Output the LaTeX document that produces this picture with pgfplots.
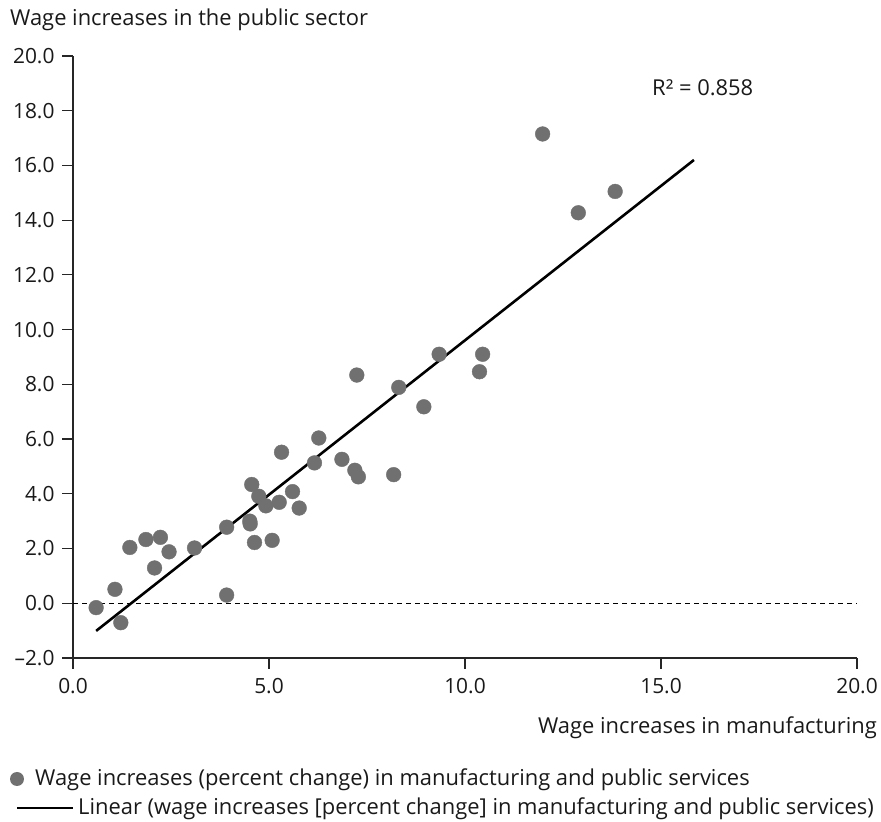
\documentclass[border=0pt]{standalone}
\usepackage{fontspec}
\setmainfont{Open Sans}
\usepackage{pgfplots}
\pgfplotsset{compat=1.18}
\definecolor{dotgray}{RGB}{112,112,112}
\definecolor{txt}{RGB}{25,25,25}
\begin{document}
\fontsize{22}{25}\selectfont
\begin{tikzpicture}[x=1bp,y=1bp]
\useasboundingbox (0,0) rectangle (881,822);
\begin{axis}[
  at={(73bp,164bp)}, anchor=south west,
  scale only axis, width=784bp, height=602bp,
  xmin=0, xmax=20, ymin=-2, ymax=20,
  axis x line=bottom, axis y line=left,
  axis line style={-, line width=1.2pt, black!85},
  tick align=outside, major tick length=11bp,
  tick style={line width=1.2pt, black!85},
  xtick={0,5,10,15,20},
  xticklabels={0.0,5.0,10.0,15.0,20.0},
  ytick={-2,0,2,4,6,8,10,12,14,16,18,20},
  yticklabels={\textendash2.0,0.0,2.0,4.0,6.0,8.0,10.0,12.0,14.0,16.0,18.0,20.0},
  ticklabel style={font=\fontsize{21}{24}\selectfont, text=txt},
  xticklabel style={yshift=-2bp},
  clip=false,
]
\addplot[black, line width=0.9pt, dash pattern=on 5bp off 4bp] coordinates {(0,0) (20,0)};
\addplot[only marks, mark=*, mark size=7.4pt, mark options={fill=dotgray, draw=dotgray}] coordinates {
(0.59,-0.16) (1.07,0.51) (1.22,-0.71) (1.45,2.04) (1.86,2.33) (2.08,1.29)
(2.23,2.41) (2.45,1.88) (3.10,2.02) (3.92,2.78) (3.92,0.30) (4.51,3.00)
(4.52,2.90) (4.56,4.34) (4.63,2.22) (4.74,3.91) (4.92,3.56) (5.08,2.30)
(5.26,3.69) (5.32,5.52) (5.60,4.08) (5.77,3.48) (6.16,5.13) (6.27,6.04)
(6.86,5.26) (7.19,4.86) (7.28,4.62) (7.24,8.34) (8.31,7.89) (8.95,7.18)
(8.18,4.70) (9.34,9.10) (10.45,9.10) (10.37,8.46) (11.98,17.15) (12.89,14.27)
(13.83,15.05)
};
\addplot[black, line width=2.6pt] coordinates {(0.59,-1.01) (15.84,16.2)};
\end{axis}
\node[anchor=base west, inner sep=0, text=txt] at (10,796) {Wage increases in the public sector};
\node[anchor=base west, inner sep=0, text=txt] at (652,726) {R² = 0.858};
\node[anchor=base east, inner sep=0, text=txt] at (877,88) {Wage increases in manufacturing};
\fill[dotgray] (17,43) circle (7bp);
\node[anchor=base west, inner sep=0, text=txt] at (35,36) {Wage increases (percent change) in manufacturing and public services};
\draw[black, line width=2.6pt] (17,14) -- (73,14);
\node[anchor=base west, inner sep=0, text=txt] at (78,7) {Linear (wage increases [percent change] in manufacturing and public services)};
\end{tikzpicture}
\end{document}
